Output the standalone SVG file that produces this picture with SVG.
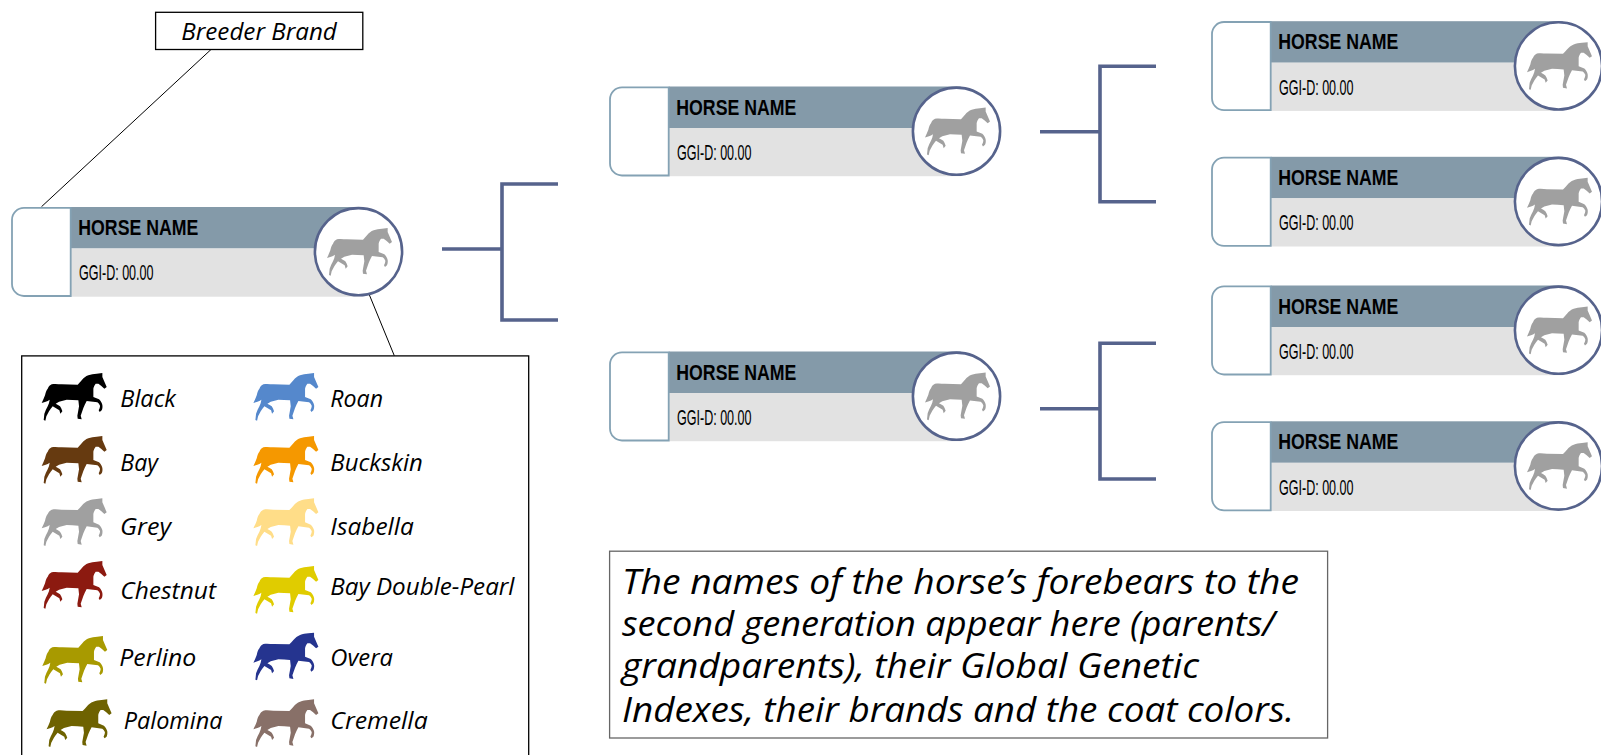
<svg xmlns="http://www.w3.org/2000/svg" xmlns:xlink="http://www.w3.org/1999/xlink" width="1601" height="755" viewBox="0 0 1601 755">
<style>
.hdr{fill:#849aa9}
.low{fill:#e2e2e2}
.brand{fill:#fff;stroke:#84a2b4;stroke-width:1.8}
.coat{fill:#fff;stroke:#56638c;stroke-width:2.6}
.name{font-family:"Liberation Sans",Arial,sans-serif;font-weight:700;font-size:22px;fill:#000}
.ggi{font-family:"Liberation Sans",Arial,sans-serif;font-size:21.5px;fill:#000}
.lab{font-family:"Open Sans",sans-serif;font-style:italic;font-size:23px;fill:#000}
.para{font-family:"Open Sans",sans-serif;font-style:italic;font-size:34px;fill:#000}
.box{fill:#fff;stroke:#000;stroke-width:1.3}
.bracket{fill:none;stroke:#56638c;stroke-width:3.6}
.thin{fill:none;stroke:#000;stroke-width:1}
</style>
<defs>
<path id="horse" transform="scale(0.3333)" d="M0,90 C4,82 7,75 10,67 C12,58 14,52 18,47 C21,40 25,36 30,34 C42,32 50,34 60,34 L108,35 C112,31 116,26 120,22 C126,15 132,10 140,7 C148,4 156,3 165,2 L182,0 L182,12 C186,22 191,32 195,42 L188,47 C182,41 176,36 170,32 L162,32 C158,37 156,42 155,47 L155,72 L172,79 C177,84 181,90 182,96 C183,102 182,108 180,112 L174,117 L171,112 C173,108 175,103 175,98 C173,94 171,91 167,88 L135,84 C131,91 128,98 125,105 L117,128 L120,139 L108,137 L107,128 L112,100 L110,82 C98,81 86,80 75,80 C67,82 60,84 52,86 L42,92 C47,94 51,97 55,100 C58,104 60,109 62,115 L56,122 L53,112 L33,100 C29,105 25,110 22,115 L14,130 L11,143 L6,141 L8,122 C11,114 14,107 18,100 C21,94 23,87 24,80 C20,83 16,85 12,86 Z"/>
<g id="card">
<rect class="hdr" x="70.7" y="207" width="292" height="41.5"/>
<rect class="low" x="70.7" y="248.5" width="292" height="48.2"/>
<path class="brand" d="M70.7,207.8 H24 A12,12 0 0 0 12,219.8 V284 A12,12 0 0 0 24,296 H70.7 Z"/>
<circle class="coat" cx="358.5" cy="251.7" r="43.6"/>
<use href="#horse" transform="translate(327 228)" fill="#a0a0a0"/>
<text class="name" x="78.3" y="235.2" textLength="120" lengthAdjust="spacingAndGlyphs">HORSE NAME</text>
<text class="ggi" x="79" y="280.4" textLength="74.5" lengthAdjust="spacingAndGlyphs">GGI-D: 00.00</text>
</g>
</defs>
<g id="connectors">
<line class="thin" x1="211" y1="49.5" x2="41.5" y2="206.7"/>
<line class="thin" x1="369" y1="294" x2="394.3" y2="355.7"/>
<path class="bracket" d="M442,249 H502 M558,184 H502 V320 H558"/>
<path class="bracket" d="M1040,131.7 H1100 M1156,66.3 H1100 V201.7 H1156"/>
<path class="bracket" d="M1040,408.7 H1100 M1156,343.3 H1100 V479 H1156"/>
</g>
<g id="node-subject"><use href="#card"/></g>
<g id="node-parent-1"><use href="#card" transform="translate(598 -120.5)"/></g>
<g id="node-parent-2"><use href="#card" transform="translate(598 144.5)"/></g>
<g id="node-grand-1"><use href="#card" transform="translate(1200 -185.8)"/></g>
<g id="node-grand-2"><use href="#card" transform="translate(1200 -50.2)"/></g>
<g id="node-grand-3"><use href="#card" transform="translate(1200 78.5)"/></g>
<g id="node-grand-4"><use href="#card" transform="translate(1200 214.3)"/></g>
<g id="breeder-brand">
<rect class="box" x="155.6" y="12.3" width="207.2" height="37.2"/>
<text class="lab" x="181.3" y="39.5" textLength="155.5" lengthAdjust="spacingAndGlyphs">Breeder Brand</text>
</g>
<g id="legend">
<rect class="box" x="21.7" y="355.9" width="507" height="420"/>
<use href="#horse" transform="translate(41.7 373)" fill="#000000"/><text class="lab" x="120.3" y="407.3" textLength="55.5" lengthAdjust="spacingAndGlyphs">Black</text>
<use href="#horse" transform="translate(41.7 436)" fill="#663a10"/><text class="lab" x="120.3" y="470.7" textLength="37.5" lengthAdjust="spacingAndGlyphs">Bay</text>
<use href="#horse" transform="translate(41.7 498.3)" fill="#a0a0a0"/><text class="lab" x="120" y="535" textLength="51" lengthAdjust="spacingAndGlyphs">Grey</text>
<use href="#horse" transform="translate(41.7 561)" fill="#8c1a10"/><text class="lab" x="120.3" y="599.3" textLength="95.7" lengthAdjust="spacingAndGlyphs">Chestnut</text>
<use href="#horse" transform="translate(42.3 636)" fill="#a89a00"/><text class="lab" x="119.3" y="665.7" textLength="77" lengthAdjust="spacingAndGlyphs">Perlino</text>
<use href="#horse" transform="translate(46.6 699.3)" fill="#6e6200"/><text class="lab" x="123.7" y="729.3" textLength="98.8" lengthAdjust="spacingAndGlyphs">Palomina</text>
<use href="#horse" transform="translate(253.4 373)" fill="#5588cc"/><text class="lab" x="330.3" y="407.3" textLength="52.7" lengthAdjust="spacingAndGlyphs">Roan</text>
<use href="#horse" transform="translate(253.4 436)" fill="#f59800"/><text class="lab" x="330.3" y="470.7" textLength="92.4" lengthAdjust="spacingAndGlyphs">Buckskin</text>
<use href="#horse" transform="translate(253.4 498.3)" fill="#ffdd88"/><text class="lab" x="330.3" y="535" textLength="83.5" lengthAdjust="spacingAndGlyphs">Isabella</text>
<use href="#horse" transform="translate(253.4 566)" fill="#e0cc00"/><text class="lab" x="330.3" y="595" textLength="184.2" lengthAdjust="spacingAndGlyphs">Bay Double-Pearl</text>
<use href="#horse" transform="translate(253.4 632.7)" fill="#25348f"/><text class="lab" x="330.3" y="665.7" textLength="62.7" lengthAdjust="spacingAndGlyphs">Overa</text>
<use href="#horse" transform="translate(253.4 699.3)" fill="#887068"/><text class="lab" x="330.3" y="729.3" textLength="97.4" lengthAdjust="spacingAndGlyphs">Cremella</text>
</g>
<g id="note">
<rect class="box" x="609.6" y="551.2" width="718" height="186.8" style="stroke:#666"/>
<text class="para" x="622" y="594" textLength="677" lengthAdjust="spacingAndGlyphs">The names of the horse’s forebears to the</text>
<text class="para" x="622" y="635.7" textLength="653" lengthAdjust="spacingAndGlyphs">second generation appear here (parents/</text>
<text class="para" x="622" y="678.4" textLength="577" lengthAdjust="spacingAndGlyphs">grandparents), their Global Genetic</text>
<text class="para" x="622" y="721.5" textLength="672" lengthAdjust="spacingAndGlyphs">Indexes, their brands and the coat colors.</text>
</g>
</svg>
